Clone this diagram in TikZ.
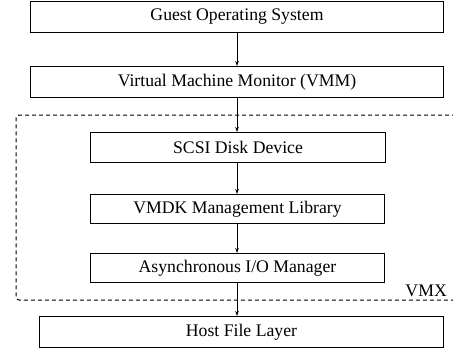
\documentclass[tikz,border=0pt]{standalone}
\usepackage{fontspec}
\setmainfont{Liberation Serif}
\usetikzlibrary{arrows.meta}
\begin{document}
\begin{tikzpicture}[x=1pt,y=-1pt,
  layer/.style={draw,line width=1pt,inner sep=0pt,anchor=north west,font=\fontsize{17.7}{20}\selectfont},
  flow/.style={line width=1pt,-{Stealth[length=5pt,width=3.5pt]}},
  region/.style={draw,line width=1pt,dash pattern=on 4pt off 3pt,rounded corners=3pt}]
\useasboundingbox (0,0) rectangle (453,357);
\node[layer,minimum width=413pt,minimum height=31pt] (guest) at (30,1) {Guest Operating System};
\node[layer,minimum width=413pt,minimum height=31pt] (vmm) at (30,66) {Virtual Machine Monitor (VMM)};
\node[layer,minimum width=295pt,minimum height=30pt] (scsi) at (90,132) {SCSI Disk Device};
\node[layer,minimum width=294pt,minimum height=29pt] (vmdk) at (90,194) {VMDK Management Library};
\node[layer,minimum width=294pt,minimum height=29pt] (aio) at (90,253) {Asynchronous I/O Manager};
\node[layer,minimum width=404pt,minimum height=31pt] (host) at (39,316) {Host File Layer};
\draw[region] (470,115) -- (16,115) -- (16,300) -- (470,300);
\node[anchor=base east,inner sep=0pt,font=\fontsize{17.7}{20}\selectfont] (vmx) at (447,296) {VMX};
\draw[flow] (guest.south -| 237,0) -- (vmm.north -| 237,0);
\draw[flow] (vmm.south -| 237,0) -- (scsi.north -| 237,0);
\draw[flow] (scsi.south -| 237,0) -- (vmdk.north -| 237,0);
\draw[flow] (vmdk.south -| 237,0) -- (aio.north -| 237,0);
\draw[flow] (aio.south -| 237,0) -- (host.north -| 237,0);
\end{tikzpicture}
\end{document}
